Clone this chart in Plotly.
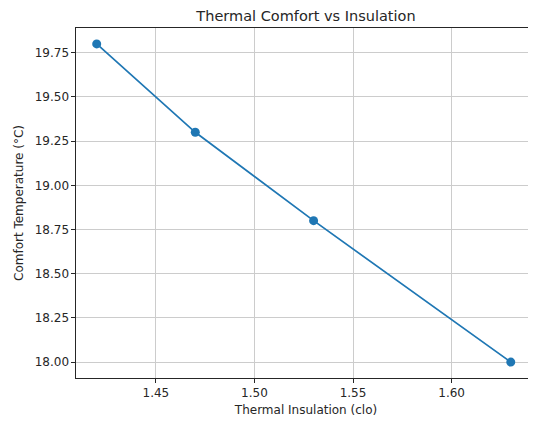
import plotly.graph_objects as go

insulation = [1.42, 1.47, 1.53, 1.63]
comfort_temp = [19.8, 19.3, 18.8, 18.0]
x_ticks = [1.45, 1.50, 1.55, 1.60]
y_ticks = [18.00, 18.25, 18.50, 18.75, 19.00, 19.25, 19.50, 19.75]

font = "DejaVu Sans"
fig = go.Figure()
fig.add_trace(go.Scatter(
    x=insulation, y=comfort_temp, mode="lines+markers",
    line=dict(color="#1f77b4", width=1.7),
    marker=dict(color="#1f77b4", size=9),
    showlegend=False, cliponaxis=False,
))
# page body has an 8px margin, so the figure is sized to end at the window edge
fig.update_layout(
    width=528, height=414,
    margin=dict(l=68, r=0, t=20, b=44),
    paper_bgcolor="white", plot_bgcolor="white",
    font=dict(family=font, size=12, color="#262626"),
    title=dict(text="Thermal Comfort vs Insulation", x=0.5, xref="paper",
               xanchor="center", y=1 - 3 / 414, yanchor="top",
               font=dict(family=font, size=14.5, color="#262626")),
)
fig.update_xaxes(
    range=[1.4095, 1.6428], tickvals=x_ticks,
    ticktext=[f"{v:.2f}" for v in x_ticks],
    showgrid=True, gridcolor="#cccccc", gridwidth=1,
    showline=True, linecolor="#262626", linewidth=1.1, mirror=True,
    ticks="outside", ticklen=3.5, tickcolor="#262626", tickwidth=0.8,
    zeroline=False,
    title=dict(text="Thermal Insulation (clo)", standoff=6,
               font=dict(family=font, size=12, color="#262626")),
)
fig.update_yaxes(
    range=[17.91, 19.89], tickvals=y_ticks,
    ticktext=[f"{v:.2f}" for v in y_ticks],
    showgrid=True, gridcolor="#cccccc", gridwidth=1,
    showline=True, linecolor="#262626", linewidth=1.1, mirror=False,
    ticks="outside", ticklen=3.5, tickcolor="#262626", tickwidth=0.8,
    zeroline=False,
    title=dict(text="Comfort Temperature (°C)", standoff=8,
               font=dict(family=font, size=12, color="#262626")),
)
fig.write_html("out.html")
